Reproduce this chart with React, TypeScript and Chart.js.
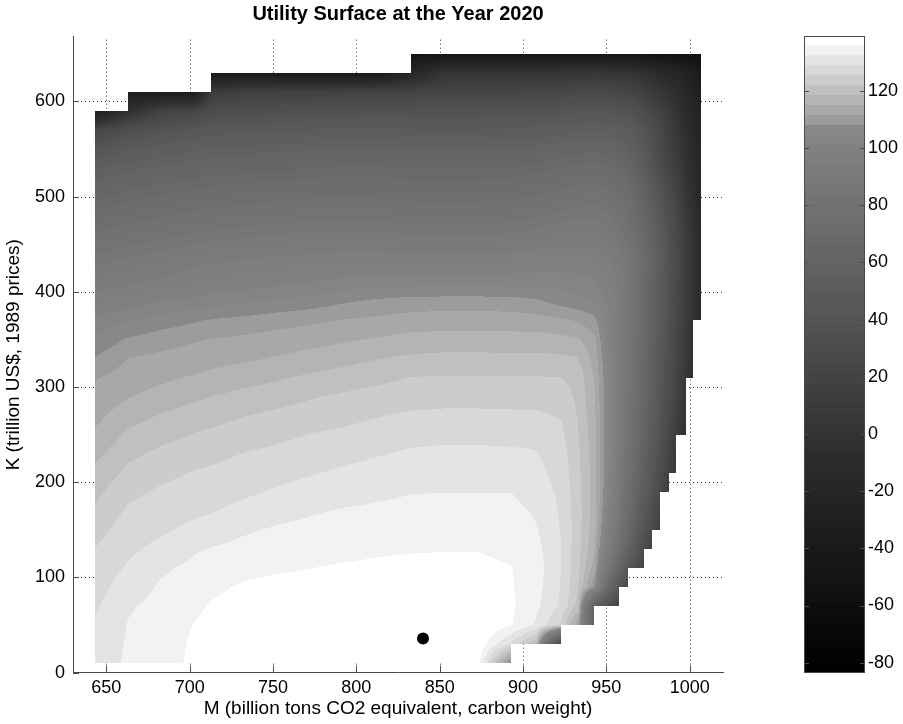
import React, { useEffect, useRef } from "react";
import { Chart, registerables } from "chart.js";

Chart.register(...registerables);

// ---------- axes ----------
const X_TICKS = [650, 700, 750, 800, 850, 900, 950, 1000];
const Y_TICKS = [0, 100, 200, 300, 400, 500, 600];
const CB_TICKS = [-80, -60, -40, -20, 0, 20, 40, 60, 80, 100, 120];
const X_RANGE = [630, 1020];
const Y_RANGE = [0, 668];
const CLIM = [-83.5, 139.2];

// ---------- surface grid ----------
const M_NODES = [643, 663, 683, 703, 713, 733, 753, 773, 793, 813, 833, 853, 873, 893, 908, 923, 933, 943, 953, 963, 973, 983, 993, 1007];
const K_NODES = [10, 30, 50, 70, 90, 110, 130, 150, 170, 190, 210, 230, 250, 270, 290, 310, 330, 350, 370, 390, 410, 430, 450, 470, 490, 510, 530, 550, 570, 590, 610, 630, 650];
// valid M range of each K band (between K_NODES[i] and K_NODES[i+1])
const ROW_M_MIN = [643, 643, 643, 643, 643, 643, 643, 643, 643, 643, 643, 643, 643, 643, 643, 643, 643, 643, 643, 643, 643, 643, 643, 643, 643, 643, 643, 643, 643, 663, 713, 833];
const ROW_M_MAX = [892.5, 922.5, 942.5, 957.5, 963, 972.8, 977.5, 982.2, 982.2, 987.8, 992, 992, 997.6, 997.6, 997.6, 1002, 1002, 1002, 1007, 1007, 1007, 1007, 1007, 1007, 1007, 1007, 1007, 1007, 1007, 1007, 1007, 1007];

// utility values at the nodes, one array per K level
const U_K10 = [131.0, 132.6, 134.2, 136.5, 137.0, 137.6, 138.0, 138.2, 138.3, 138.3, 138.2, 138.0, 137.5, 105, null, null, null, null, null, null, null, null, null, null];
const U_K30 = [130.5, 132.5, 134.0, 136.3, 136.9, 137.8, 138.3, 138.6, 138.8, 138.9, 139.0, 138.9, 138.5, 128, 118, 20, null, null, null, null, null, null, null, null];
const U_K50 = [129.3, 132.4, 133.6, 135.9, 136.6, 137.6, 138.2, 138.6, 138.8, 139.0, 139.1, 139.0, 138.8, 135.9, 131.8, 124.5, 112, 55, null, null, null, null, null, null];
const U_K70 = [128.2, 131.9, 133.2, 135.0, 136.0, 137.1, 137.8, 138.2, 138.5, 138.7, 138.8, 138.7, 138.6, 136.3, 133.0, 128.0, 120.5, 55, 30, 10, null, null, null, null];
const U_K90 = [127.3, 130.5, 132.7, 134.0, 135.0, 136.2, 136.8, 137.3, 137.6, 137.8, 138.0, 138.0, 137.8, 136.0, 133.5, 128.5, 122, 108, 60, 25, null, null, null, null];
const U_K110 = [126.3, 129.2, 131.7, 133.0, 133.7, 134.7, 135.2, 135.7, 136.1, 136.4, 136.7, 136.9, 136.7, 135.8, 133.8, 128.7, 122.8, 113, 80, 45, 18, null, null, null];
const U_K130 = [125.4, 128.0, 129.8, 131.9, 132.4, 133.3, 134.0, 134.4, 134.8, 135.2, 135.4, 135.5, 135.5, 134.9, 133.3, 128.8, 123, 115, 90, 60, 30, 5, null, null];
const U_K150 = [123.9, 126.9, 128.2, 129.7, 130.5, 131.8, 132.7, 133.2, 133.6, 133.9, 134.1, 134.2, 134.2, 134.0, 132.5, 128.5, 123.3, 116, 95, 68, 40, 12, null, null];
const U_K170 = [122.4, 125.8, 127.0, 128.0, 128.5, 129.9, 131.0, 131.9, 132.5, 132.8, 133.1, 133.2, 133.2, 133.2, 131.8, 128.3, 123.3, 116.5, 98, 72, 45, 18, null, null];
const U_K190 = [120.8, 124.4, 125.8, 126.7, 127.2, 128.1, 129.2, 130.2, 131.0, 131.6, 132.1, 132.2, 132.2, 132.2, 130.5, 128.0, 123, 116.5, 100, 75, 50, 25, 0, null];
const U_K210 = [119.1, 122.7, 124.3, 125.5, 125.9, 126.8, 127.6, 128.5, 129.4, 130.1, 130.7, 130.8, 130.8, 130.7, 129.8, 127.4, 122.8, 116.5, 101, 78, 54, 29, 4, null];
const U_K230 = [117.3, 120.9, 122.6, 123.8, 124.3, 125.4, 126.1, 126.9, 127.7, 128.5, 129.3, 129.5, 129.5, 129.3, 128.9, 126.8, 122.5, 116.3, 102, 80, 57, 33, 7, null];
const U_K250 = [115.3, 119.0, 120.7, 122.0, 122.5, 123.6, 124.5, 125.4, 126.0, 126.8, 127.6, 127.9, 127.9, 127.8, 128.0, 126.0, 122.0, 116, 102, 82, 60, 36, 10, -25];
const U_K270 = [113.8, 116.8, 118.6, 119.9, 120.5, 121.7, 122.6, 123.5, 124.3, 125.1, 125.8, 126.0, 126.0, 125.9, 125.8, 125.0, 121.6, 115.5, 102, 83, 62, 39, 13, -22];
const U_K290 = [112.5, 114.6, 116.2, 117.7, 118.3, 119.4, 120.4, 121.5, 122.4, 123.1, 123.8, 124.1, 124.1, 124.0, 124.0, 123.6, 121.0, 115, 102, 84, 64, 41, 16, -20];
const U_K310 = [111.0, 113.0, 114.1, 115.2, 115.8, 116.9, 117.9, 119.0, 119.9, 120.9, 121.9, 122.1, 122.1, 122.0, 122.0, 121.8, 120.5, 114.5, 102, 85, 65, 43, 18, -18];
const U_K330 = [108.1, 111.4, 112.3, 113.1, 113.6, 114.3, 115.2, 116.2, 117.2, 118.2, 119.0, 119.3, 119.3, 119.2, 119.3, 119.0, 118.5, 113.5, 101, 85, 66, 44, 20, -16];
const U_K350 = [105, 108.3, 109.8, 111.0, 111.5, 112.1, 112.8, 113.5, 114.4, 115.2, 116.0, 116.3, 116.3, 116.2, 116.2, 115.8, 115.2, 112, 100, 85, 67, 45, 21, -15];
const U_K370 = [102, 104, 106, 107.5, 108.2, 109.0, 110.0, 110.7, 111.6, 112.2, 112.9, 113.1, 113.1, 113.0, 112.8, 112.0, 111.0, 109, 100, 87, 69, 47, 23, -13];
const U_K390 = [97, 99, 101, 102, 103, 104, 105, 106, 107.5, 108.6, 109.4, 109.6, 109.6, 109.4, 108.5, 106.5, 105.5, 104.5, 99, 87, 69, 48, 24, -12];
const U_K410 = [91, 93, 95, 97, 98, 99, 100, 101, 102, 103, 103, 103, 103, 103, 103, 103, 102.5, 101.5, 97, 86, 69, 48, 25, -12];
const U_K430 = [86, 89, 91, 93, 94, 95, 96, 97, 98, 98, 98, 98, 98, 98.5, 99, 99, 99, 98, 95, 86, 70, 50, 26, -12];
const U_K450 = [80, 83, 85, 87, 88, 89, 90, 91, 91, 91, 90, 90, 90, 90.5, 92, 93, 93.5, 93, 90, 83, 69, 49, 25, -13];
const U_K470 = [74, 77, 79, 81, 82, 83, 84, 85, 85, 85, 84, 84, 84, 84.5, 86, 88, 89, 89, 86, 78, 65, 46, 23, -15];
const U_K490 = [68, 71, 73, 75, 76, 77, 78, 79, 79, 79, 78, 78, 78, 78.5, 80, 82, 83, 84, 81, 75, 62, 42, 20, -17];
const U_K510 = [62, 65, 67, 69, 70, 71, 72, 73, 73, 73, 72, 72, 72, 72.5, 74, 76, 77, 78, 76, 70, 57, 37, 16, -19];
const U_K530 = [55, 58, 60, 62, 63, 64, 65, 66, 67, 67, 66, 66, 66, 66.5, 68, 70, 71, 72, 70, 64, 51, 28, 12, -21];
const U_K550 = [40, 49, 52, 55, 56, 57, 58, 59, 60, 60, 59, 59, 59, 59.5, 61, 63, 64, 65, 63, 58, 46, 26, 8, -23];
const U_K570 = [22, 34, 39, 44, 46, 47, 48, 49, 50, 50, 49, 49, 49, 49.5, 51, 53, 54, 55, 54, 50, 40, 24, 4, -25];
const U_K590 = [-35, -5, 18, 22, 30, 33, 34, 35, 36, 37, 37, 37, 37, 37, 38, 40, 41, 42, 41, 38, 30, 16, -2, -28];
const U_K610 = [null, -35, -35, -35, 10, 15, 16, 17, 18, 19, 20, 22, 22, 22, 23, 24, 25, 26, 25, 22, 15, 4, -8, -32];
const U_K630 = [null, null, null, null, -40, -40, -40, -40, -40, -40, -20, 2, 2, 2, 3, 4, 4, 4, 4, 2, -4, -12, -20, -38];
const U_K650 = [null, null, null, null, null, null, null, null, null, null, -50, -50, -50, -50, -48, -47, -47, -47, -47, -48, -50, -52, -55, -58];

const UTILITY: (number | null)[][] = [
  U_K10, U_K30, U_K50, U_K70, U_K90, U_K110, U_K130, U_K150, U_K170, U_K190, U_K210,
  U_K230, U_K250, U_K270, U_K290, U_K310, U_K330, U_K350, U_K370, U_K390, U_K410,
  U_K430, U_K450, U_K470, U_K490, U_K510, U_K530, U_K550, U_K570, U_K590, U_K610,
  U_K630, U_K650,
];

const OPTIMUM = [{ x: 840, y: 36 }];

// ---------- colormap (64 gray levels) ----------
const GRAY_STOPS: [number, number][] = [
  [-83.5, 0], [-60, 14], [-40, 26], [-20, 37], [0, 50], [20, 68], [40, 84], [60, 99], [80, 114], [100, 129], [108, 138],
];
const TOP_BAND_GRAYS = [156, 168, 180, 192, 204, 216, 228, 242, 255];

const COLORMAP: string[] = (() => {
  const out: string[] = [];
  const step = (CLIM[1] - CLIM[0]) / 64;
  for (let k = 0; k < 64; k++) {
    let g: number;
    if (k >= 64 - TOP_BAND_GRAYS.length) {
      g = TOP_BAND_GRAYS[k - (64 - TOP_BAND_GRAYS.length)];
    } else {
      const v = CLIM[0] + step * (k + 0.5);
      g = GRAY_STOPS[GRAY_STOPS.length - 1][1];
      for (let s = 0; s < GRAY_STOPS.length - 1; s++) {
        const [v0, g0] = GRAY_STOPS[s];
        const [v1, g1] = GRAY_STOPS[s + 1];
        if (v >= v0 && v <= v1) {
          g = g0 + ((g1 - g0) * (v - v0)) / (v1 - v0);
          break;
        }
      }
    }
    const gi = Math.round(g);
    out.push(`rgb(${gi},${gi},${gi})`);
  }
  return out;
})();

function colorIndex(v: number): number {
  const k = Math.floor(((v - CLIM[0]) / (CLIM[1] - CLIM[0])) * 64);
  return Math.max(0, Math.min(63, k));
}

const FONT_FAMILY = "'Liberation Sans', Arial, Helvetica, sans-serif";
const AXIS_COLOR = "#4a4a4a";

const surfacePlugin = {
  id: "utilitySurface",
  beforeDatasetsDraw(chart: any) {
    const { ctx, chartArea: ca } = chart;
    const xs = chart.scales.x;
    const ys = chart.scales.y;
    ctx.save();

    // dotted grid (behind the surface)
    ctx.strokeStyle = "rgba(0,0,0,0.8)";
    ctx.lineWidth = 1;
    ctx.setLineDash([1, 3]);
    X_TICKS.forEach((v) => {
      const p = Math.round(xs.getPixelForValue(v)) + 0.5;
      ctx.beginPath();
      ctx.moveTo(p, ca.bottom);
      ctx.lineTo(p, ca.top);
      ctx.stroke();
    });
    Y_TICKS.forEach((v) => {
      if (v === Y_RANGE[0]) return;
      const p = Math.round(ys.getPixelForValue(v)) + 0.5;
      ctx.beginPath();
      ctx.moveTo(ca.left, p);
      ctx.lineTo(ca.right, p);
      ctx.stroke();
    });
    ctx.setLineDash([]);

    // surface with interpolated shading
    for (let i = 0; i < K_NODES.length - 1; i++) {
      const k0 = K_NODES[i];
      const k1 = K_NODES[i + 1];
      const lo = UTILITY[i];
      const hi = UTILITY[i + 1];
      const pyTop = Math.round(ys.getPixelForValue(k1));
      const pyBot = Math.round(ys.getPixelForValue(k0));
      for (let j = 0; j < M_NODES.length - 1; j++) {
        const m0 = M_NODES[j];
        const m1 = M_NODES[j + 1];
        const a = Math.max(m0, ROW_M_MIN[i]);
        const b = Math.min(m1, ROW_M_MAX[i]);
        if (b <= a) continue;
        const v00 = lo[j], v10 = lo[j + 1], v01 = hi[j], v11 = hi[j + 1];
        if (v00 == null || v10 == null || v01 == null || v11 == null) continue;
        const pxL = Math.round(xs.getPixelForValue(a));
        const pxR = Math.round(xs.getPixelForValue(b));
        for (let py = pyTop; py < pyBot; py++) {
          let t = (ys.getValueForPixel(py + 0.5) - k0) / (k1 - k0);
          t = Math.max(0, Math.min(1, t));
          const vl = v00 + (v01 - v00) * t;
          const vr = v10 + (v11 - v10) * t;
          let runStart = pxL;
          let runIdx = -1;
          for (let px = pxL; px < pxR; px++) {
            let s = (xs.getValueForPixel(px + 0.5) - m0) / (m1 - m0);
            s = Math.max(0, Math.min(1, s));
            const idx = colorIndex(vl + (vr - vl) * s);
            if (idx !== runIdx) {
              if (runIdx >= 0) {
                ctx.fillStyle = COLORMAP[runIdx];
                ctx.fillRect(runStart, py, px - runStart, 1);
              }
              runIdx = idx;
              runStart = px;
            }
          }
          if (runIdx >= 0) {
            ctx.fillStyle = COLORMAP[runIdx];
            ctx.fillRect(runStart, py, pxR - runStart, 1);
          }
        }
      }
    }

    // inward tick marks
    ctx.strokeStyle = AXIS_COLOR;
    ctx.lineWidth = 1;
    X_TICKS.forEach((v) => {
      const p = Math.round(xs.getPixelForValue(v)) + 0.5;
      ctx.beginPath();
      ctx.moveTo(p, ca.bottom);
      ctx.lineTo(p, ca.bottom - 7);
      ctx.stroke();
    });
    Y_TICKS.forEach((v) => {
      const p = Math.round(ys.getPixelForValue(v)) + 0.5;
      ctx.beginPath();
      ctx.moveTo(ca.left, p);
      ctx.lineTo(ca.left + 6, p);
      ctx.stroke();
    });
    ctx.restore();
  },
};

const colorbarFramePlugin = {
  id: "colorbarFrame",
  afterDatasetsDraw(chart: any) {
    const { ctx, chartArea: ca } = chart;
    const ys = chart.scales.y;
    ctx.save();
    ctx.strokeStyle = AXIS_COLOR;
    ctx.lineWidth = 1;
    ctx.strokeRect(Math.round(ca.left) + 0.5, Math.round(ca.top) + 0.5, Math.round(ca.right - ca.left) - 1, Math.round(ca.bottom - ca.top) - 1);
    CB_TICKS.forEach((v) => {
      const p = Math.round(ys.getPixelForValue(v)) + 0.5;
      ctx.beginPath();
      ctx.moveTo(ca.left, p);
      ctx.lineTo(ca.left + 5, p);
      ctx.moveTo(ca.right, p);
      ctx.lineTo(ca.right - 5, p);
      ctx.stroke();
    });
    ctx.restore();
  },
};

const plainLabel = (v: any) => String(v);

export default function App() {
  const mainRef = useRef<HTMLCanvasElement>(null);
  const cbRef = useRef<HTMLCanvasElement>(null);

  useEffect(() => {
    Chart.defaults.font.family = FONT_FAMILY;
    Chart.defaults.color = "#000";

    const main = new Chart(mainRef.current as HTMLCanvasElement, {
      type: "scatter",
      data: {
        datasets: [
          {
            data: OPTIMUM,
            pointRadius: 6,
            pointHoverRadius: 6,
            pointBackgroundColor: "#000",
            pointBorderWidth: 0,
          },
        ],
      },
      options: {
        responsive: false,
        animation: false,
        devicePixelRatio: 1,
        events: [],
        layout: { padding: { left: 0, right: 57, top: 0, bottom: 0 } },
        plugins: {
          legend: { display: false },
          tooltip: { enabled: false },
          title: {
            display: true,
            text: "Utility Surface at the Year 2020",
            fullSize: false,
            color: "#000",
            font: { size: 20, weight: "bold", family: FONT_FAMILY, lineHeight: 1.2 },
            padding: { top: 2, bottom: 10.7 },
          },
        },
        scales: {
          x: {
            type: "linear",
            min: X_RANGE[0],
            max: X_RANGE[1],
            afterBuildTicks: (s: any) => {
              s.ticks = X_TICKS.map((v) => ({ value: v }));
            },
            afterFit: (s: any) => {
              s.height = 51.3;
            },
            grid: { display: false, drawTicks: false },
            border: { display: true, color: AXIS_COLOR, width: 1 },
            ticks: { color: "#000", font: { size: 18 }, padding: 5, maxRotation: 0, autoSkip: false, callback: plainLabel },
            title: {
              display: true,
              text: "M (billion tons CO2 equivalent, carbon weight)",
              color: "#000",
              font: { size: 19 },
              padding: { top: 0, bottom: 4 },
            },
          },
          y: {
            type: "linear",
            min: Y_RANGE[0],
            max: Y_RANGE[1],
            afterBuildTicks: (s: any) => {
              s.ticks = Y_TICKS.map((v) => ({ value: v }));
            },
            afterFit: (s: any) => {
              s.width = 73;
            },
            grid: { display: false, drawTicks: false },
            border: { display: true, color: AXIS_COLOR, width: 1 },
            ticks: { color: "#000", font: { size: 18 }, padding: 8, autoSkip: false, callback: plainLabel },
            title: {
              display: true,
              text: "K (trillion US$, 1989 prices)",
              color: "#000",
              font: { size: 19 },
              padding: { top: 2, bottom: 0 },
            },
          },
        },
      } as any,
      plugins: [surfacePlugin],
    });

    const step = (CLIM[1] - CLIM[0]) / 64;
    const cb = new Chart(cbRef.current as HTMLCanvasElement, {
      type: "bar",
      data: {
        labels: [""],
        datasets: COLORMAP.map((c, k) => ({
          data: [[CLIM[0] + step * k, CLIM[0] + step * (k + 1)]],
          backgroundColor: c,
          borderWidth: 0,
          inflateAmount: 0.6,
          grouped: false,
          barPercentage: 1,
          categoryPercentage: 1,
        })) as any,
      },
      options: {
        responsive: false,
        animation: false,
        devicePixelRatio: 1,
        events: [],
        layout: { padding: { left: 24, right: 0, top: 36, bottom: 51.3 } },
        plugins: { legend: { display: false }, tooltip: { enabled: false } },
        scales: {
          x: { display: false },
          y: {
            type: "linear",
            position: "right",
            min: CLIM[0],
            max: CLIM[1],
            afterBuildTicks: (s: any) => {
              s.ticks = CB_TICKS.map((v) => ({ value: v }));
            },
            afterFit: (s: any) => {
              s.width = 38;
            },
            grid: { display: false, drawTicks: false },
            border: { display: false },
            ticks: { color: "#000", font: { size: 18 }, padding: 3, autoSkip: false, callback: plainLabel },
          },
        },
      } as any,
      plugins: [colorbarFramePlugin],
    });

    return () => {
      main.destroy();
      cb.destroy();
    };
  }, []);

  return (
    <div style={{ position: "absolute", left: 0, top: 0, width: 903, height: 724, background: "#fff" }}>
      <canvas ref={mainRef} width={780} height={724} style={{ position: "absolute", left: 0, top: 0 }} />
      <canvas ref={cbRef} width={123} height={724} style={{ position: "absolute", left: 780, top: 0 }} />
    </div>
  );
}
